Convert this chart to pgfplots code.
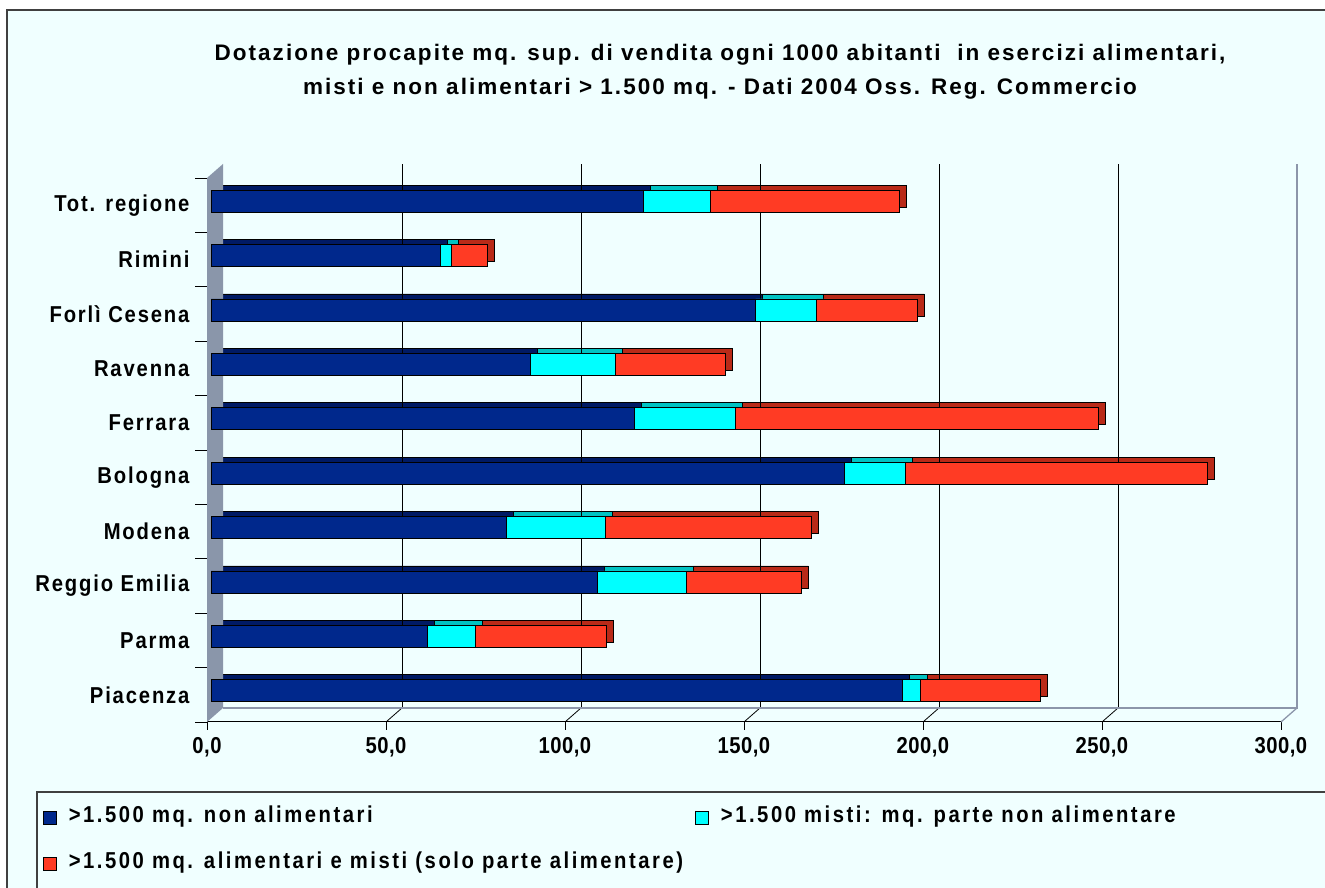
\documentclass[border=0pt]{standalone}
\usepackage{fontspec}
\setmainfont{Liberation Sans}
\newfontfamily\titlefont[LetterSpace=9]{Liberation Sans}
\newfontfamily\lblfont[FakeStretch=0.88, LetterSpace=8]{Liberation Sans}
\newfontfamily\tickfont[FakeStretch=0.88, LetterSpace=2]{Liberation Sans}
\newfontfamily\legfont[FakeStretch=0.88, LetterSpace=11]{Liberation Sans}
\usepackage{pgfplots}
\pgfplotsset{compat=1.18}

\definecolor{bg}{RGB}{240,255,255}
\definecolor{framegray}{RGB}{64,64,64}
\definecolor{wallgray}{RGB}{138,150,170}
\definecolor{edgegray}{RGB}{140,150,170}
\definecolor{cblue}{RGB}{0,40,140}
\definecolor{cbluetop}{RGB}{0,26,100}
\definecolor{ccyan}{RGB}{0,255,255}
\definecolor{ccyantop}{RGB}{0,195,195}
\definecolor{cred}{RGB}{255,59,36}
\definecolor{credtop}{RGB}{185,42,24}

\newcommand{\ttl}{\titlefont\bfseries\fontsize{22.5}{24}\selectfont}
\newcommand{\lbl}{\lblfont\bfseries\fontsize{23}{25}\selectfont}
\newcommand{\tck}{\tickfont\bfseries\fontsize{23}{25}\selectfont}
\newcommand{\lgd}{\legfont\bfseries\fontsize{23}{25}\selectfont}

% values, Piacenza (0) ... Tot. regione (9)
\pgfplotsset{
  sq legend/.style={legend image code/.code={
    \draw[##1,draw=black,line width=0.8pt] (0pt,-6.5pt) rectangle (13pt,6.5pt);}},
}

\begin{document}
\begin{tikzpicture}
\useasboundingbox (0,0) rectangle (1325pt,888pt);
\clip (0,0) rectangle (1325pt,888pt);
\fill[white] (0,0) rectangle (1325pt,888pt);
\fill[bg] (7pt,-5pt) rectangle (1330pt,878pt);
\draw[framegray, line width=2pt] (7pt,-5pt) -- (7pt,878pt) -- (1330pt,878pt);

\node[anchor=base, font=\ttl] at (720pt,827.3pt)
  {Dotazione procapite mq. sup. di vendita ogni 1000 abitanti\ \ in esercizi alimentari,};
\node[anchor=base, font=\ttl] at (720pt,793pt)
  {misti e non alimentari > 1.500 mq. - Dati 2004 Oss. Reg. Commercio};

\draw[framegray, line width=1.2pt] (37pt,-5pt) -- (37pt,96pt) -- (1330pt,96pt);

% back copies: top and end faces of the bars
\begin{axis}[
  at={(207pt,166pt)}, anchor=south west, scale only axis,
  width=1074pt, height=544pt,
  xmin=0, xmax=300, ymin=-0.5, ymax=9.5,
  xbar stacked, bar width=22pt,
  axis x line*=bottom, axis y line*=left,
  axis line style={black, line width=1pt, -},
  xtick={0,50,100,150,200,250,300},
  xticklabels={{0,0},{50,0},{100,0},{150,0},{200,0},{250,0},{300,0}},
  ytick={0,1,2,3,4,5,6,7,8,9},
  yticklabels={Piacenza,Parma,Reggio Emilia,Modena,Bologna,Ferrara,Ravenna,Forlì Cesena,Rimini,Tot. regione},
  tick align=outside, major tick length=8pt,
  xtick style={black, line width=0.8pt},
  ytick style={draw=none},
  xticklabel style={font=\tck, yshift=-4pt},
  yticklabel style={font=\lbl, anchor=east, xshift=-6pt},
  clip=false,
]
\fill[wallgray] (axis cs:0,-0.5) -- (axis cs:0,9.5) -- ([shift={(16pt,14pt)}]axis cs:0,9.5) -- ([shift={(16pt,14pt)}]axis cs:0,-0.5) -- cycle;
\draw[edgegray, line width=1.3pt] ([shift={(16pt,14pt)}]axis cs:0,-0.5) -- ([shift={(16pt,14pt)}]axis cs:300,-0.5) -- ([shift={(16pt,14pt)}]axis cs:300,9.5);
\draw[edgegray, line width=1.3pt] (axis cs:300,-0.5) -- ([shift={(16pt,14pt)}]axis cs:300,-0.5);
\pgfplotsinvokeforeach{50,100,150,200,250}{
  \draw[black, line width=0.8pt] ([shift={(16pt,14pt)}]axis cs:#1,-0.5) -- ([shift={(16pt,14pt)}]axis cs:#1,9.5);
}
\pgfplotsinvokeforeach{50,100,150,200,250}{
  \draw[black, line width=0.8pt] (axis cs:#1,-0.5) -- ([shift={(16pt,14pt)}]axis cs:#1,-0.5);
}
\pgfplotsinvokeforeach{-0.5,0.5,1.5,2.5,3.5,4.5,5.5,6.5,7.5,8.5,9.5}{
  \draw[black, line width=0.8pt] (axis cs:0,#1) -- ++(-12pt,0pt);
}
\addplot[fill=cbluetop, draw=black, line width=0.8pt, xshift=11pt, yshift=9pt] coordinates {
  (193.1,0) (60.5,1) (108.0,2) (82.4,3) (176.8,4) (118.2,5) (89.1,6) (152.1,7) (64.0,8) (120.8,9)};
\addplot[fill=ccyantop, draw=black, line width=0.8pt, xshift=11pt, yshift=9pt] coordinates {
  (5.1,0) (13.3,1) (24.9,2) (27.7,3) (17.1,4) (28.4,5) (23.9,6) (17.1,7) (3.1,8) (18.8,9)};
\addplot[fill=credtop, draw=black, line width=0.8pt, xshift=11pt, yshift=9pt] coordinates {
  (33.4,0) (36.7,1) (32.0,2) (57.7,3) (84.3,4) (101.3,5) (30.6,6) (28.1,7) (10.0,8) (52.6,9)};
\end{axis}

% front faces and legend
\begin{axis}[
  at={(211pt,170pt)}, anchor=south west, scale only axis,
  width=1074pt, height=544pt,
  xmin=0, xmax=300, ymin=-0.5, ymax=9.5,
  xbar stacked, bar width=22pt,
  hide axis, clip=false,
  legend columns=2,
  legend cell align=left,
  legend style={at={(axis description cs:-0.1564,-0.1654)}, anchor=north west,
    draw=none, fill=none, inner sep=0pt, outer sep=0pt, font=\lgd,
    column sep=12pt, row sep=27pt,
    nodes={inner sep=0pt, text height=15pt, text depth=4pt}},
]
\addplot[fill=cblue, draw=black, line width=0.8pt, sq legend] coordinates {
  (193.1,0) (60.5,1) (108.0,2) (82.4,3) (176.8,4) (118.2,5) (89.1,6) (152.1,7) (64.0,8) (120.8,9)};
\addlegendentry{>1.500 mq. non alimentari}
\addplot[fill=ccyan, draw=black, line width=0.8pt, sq legend] coordinates {
  (5.1,0) (13.3,1) (24.9,2) (27.7,3) (17.1,4) (28.4,5) (23.9,6) (17.1,7) (3.1,8) (18.8,9)};
\addlegendentry{>1.500 misti: mq. parte non alimentare}
\addplot[fill=cred, draw=black, line width=0.8pt, sq legend] coordinates {
  (33.4,0) (36.7,1) (32.0,2) (57.7,3) (84.3,4) (101.3,5) (30.6,6) (28.1,7) (10.0,8) (52.6,9)};
\addlegendentry{>1.500 mq. alimentari e misti (solo parte alimentare)}
\end{axis}
\end{tikzpicture}
\end{document}
